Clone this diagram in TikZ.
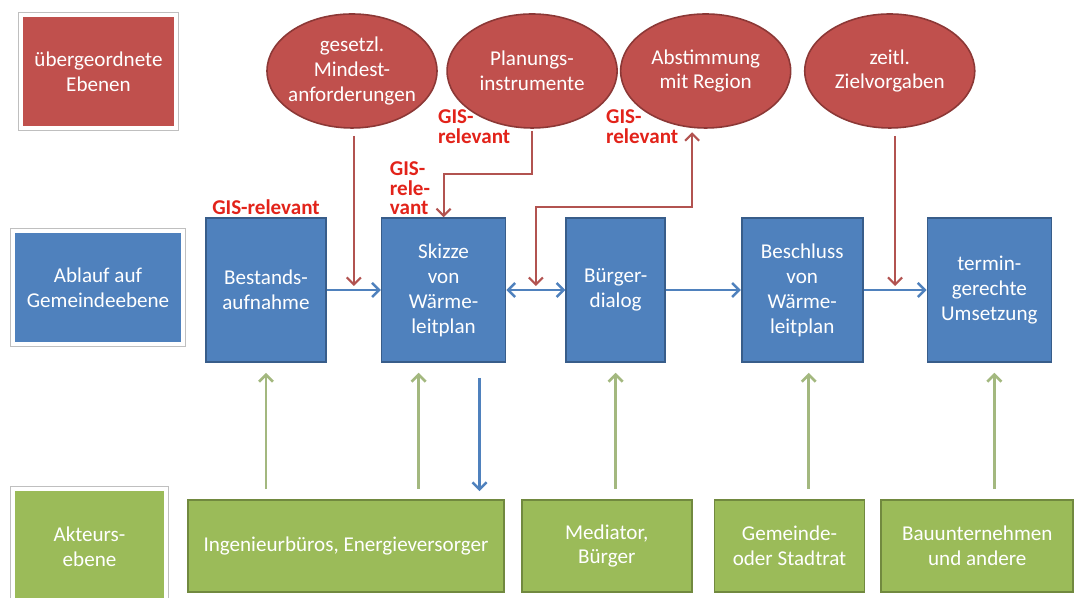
\documentclass[tikz,border=0pt]{standalone}
\usepackage{fontspec}
\setmainfont{Carlito}
\usepackage{tikz}
\usetikzlibrary{calc,positioning,arrows.meta,shapes.geometric,shadows}
\definecolor{blueFill}{HTML}{4F81BD}
\definecolor{blueLine}{HTML}{385D8A}
\definecolor{redFill}{HTML}{C0504D}
\definecolor{redLine}{HTML}{8C3836}
\definecolor{arrowRed}{HTML}{B25350}
\definecolor{greenFill}{HTML}{9BBB59}
\definecolor{greenLine}{HTML}{71893F}
\definecolor{arrowGreen}{HTML}{A3B87F}
\definecolor{gisRed}{HTML}{E2231A}
\newcommand{\boxfont}{\fontsize{12}{14.2}\selectfont}
\tikzstyle{blueArrow} = [line width=1.4pt, draw=blueFill, ->, >={Straight Barb[length=4pt,width=8pt]}]
\tikzstyle{redArrow} = [line width=1.2pt, draw=arrowRed, ->, >={Straight Barb[length=4pt,width=8pt]}]
\tikzstyle{greenArrow} = [line width=1.5pt, draw=arrowGreen, ->, >={Straight Barb[length=4pt,width=8pt]}, shorten <=0.2cm, shorten >=0.2cm]

\begin{document}
\begin{tikzpicture}
\tikzset{%
	legend/.style = { rectangle, draw=white, line width=2.4pt, text=white, align=center, font=\boxfont, minimum width=3.1cm, minimum height=2.26cm, preaction={draw=black!25, line width=3.6pt}, drop shadow={shadow xshift=0.8pt, shadow yshift=-1pt, opacity=0.3} },
	process/.style = { rectangle, draw=blueLine, line width=0.9pt, fill=blueFill, text=white, align=center, font=\boxfont, minimum height=2.88cm, inner sep=0pt },
	goal/.style = { ellipse, draw=redLine, line width=0.9pt, fill=redFill, text=white, align=center, font=\boxfont, minimum width=3.4cm, minimum height=2.28cm, inner sep=-6pt },
	actor/.style = { rectangle, draw=greenLine, line width=1pt, fill=greenFill, text=white, align=center, font=\boxfont, minimum height=1.84cm, inner sep=0pt },
	gis/.style = { text=gisRed, align=left, inner sep=1pt, font=\fontsize{12}{11.2}\selectfont\bfseries }
}
\useasboundingbox (0,0) rectangle (21.56,11.96);

\node(LegendOben)		[legend, fill=redFill] at (1.97,10.53)
								{übergeordnete\\Ebenen};
\node(LegendMitte)		[legend, fill=blueFill, minimum width=3.4cm] at (1.96,6.21)
								{Ablauf auf\\Gemeindeebene};
\node(LegendUnten)		[legend, fill=greenFill, minimum width=3.06cm, minimum height=2.32cm] at (1.79,1.02)
								{Akteurs-\\ebene};

\node(Bestand)			[process, minimum width=2.4cm] at (5.32,6.16)
								{Bestands-\\aufnahme};
\node(Skizze)			[process, minimum width=2.48cm, right=1.08cm of Bestand]
								{Skizze\\von\\Wärme-\\leitplan};
\node(Dialog)			[process, minimum width=1.98cm, right=1.18cm of Skizze]
								{Bürger-\\dialog};
\node(Beschluss)		[process, minimum width=2.42cm, right=1.5cm of Dialog]
								{Beschluss\\von\\Wärme-\\leitplan};
\node(Umsetzung)		[process, minimum width=2.48cm, right=1.26cm of Beschluss]
								{termin-\\gerechte\\Umsetzung};

\node(Gesetz)			[goal] at (7.04,10.54)
								{gesetzl.\\Mindest-\\anforderungen};
\node(Planung)			[goal, right=0.17cm of Gesetz]
								{Planungs-\\instrumente};
\node(Abstimmung)		[goal, right=0.04cm of Planung]
								{Abstimmung\\mit Region};
\node(Ziele)			[goal, right=0.25cm of Abstimmung]
								{zeitl.\\Zielvorgaben};

\node(Ingenieure)		[actor, minimum width=6.32cm] at (6.92,1.04)
								{Ingenieurbüros, Energieversorger};
\node(Mediator)			[actor, minimum width=3.4cm, right=0.32cm of Ingenieure]
								{Mediator,\\Bürger};
\node(Stadtrat)			[actor, minimum width=3.0cm, right=0.42cm of Mediator]
								{Gemeinde-\\oder Stadtrat};
\node(Bau)				[actor, minimum width=3.84cm, right=0.3cm of Stadtrat]
								{Bauunternehmen\\und andere};

\node(GisBestand)		[gis, above=0pt of Bestand]
								{GIS-relevant};
\node(GisSkizze)		[gis, anchor=south west] at ($(Skizze.north west)+(0.14,0)$)
								{GIS-\\rele-\\vant};
\node(GisPlanung)		[gis, anchor=south west] at (8.72,9.05)
								{GIS-\\relevant};
\node(GisRegion)		[gis, anchor=south west] at (12.08,9.05)
								{GIS-\\relevant};

\coordinate (MidBS) at ($(Bestand.east)!0.5!(Skizze.west)$);
\coordinate (MidSD) at ($(Skizze.east)!0.5!(Dialog.west)$);
\coordinate (MidBU) at ($(Beschluss.east)!0.5!(Umsetzung.west)$);
\coordinate (RegionIn) at ($(Abstimmung.south)+(-0.27,0)$);
\coordinate (SkizzeIn) at ($(Skizze.south)+(-0.5,0)$);
\coordinate (SkizzeOut) at ($(Skizze.south)+(0.72,0)$);
\coordinate (BeschlussIn) at ($(Beschluss.south)+(0.13,0)$);
\coordinate (UmsetzungIn) at ($(Umsetzung.south)+(0.1,0)$);

\draw [blueArrow]		(Bestand) -- (Skizze);
\draw [blueArrow, <->]	(Skizze) -- (Dialog);
\draw [blueArrow]		(Dialog) -- (Beschluss);
\draw [blueArrow]		(Beschluss) -- (Umsetzung);
\draw [blueArrow, shorten <=0.3cm, shorten >=0.16cm]
						(SkizzeOut) -- (SkizzeOut |- Ingenieure.north);

\draw [redArrow, shorten <=0.14cm, shorten >=0.08cm]	(Gesetz.south -| MidBS) -- (MidBS);
\draw [redArrow, shorten <=0.04cm]	(Planung.south) -- ++(0,-0.9) -| (Skizze.north);
\draw [redArrow, <->, shorten <=0.08cm, shorten >=0.07cm]
						(MidSD) -- ++(0,1.66) -| (RegionIn);
\draw [redArrow, shorten <=0.14cm, shorten >=0.08cm]	(Ziele.south -| MidBU) -- (MidBU);

\draw [greenArrow]	(Ingenieure.north -| Bestand.south) -- (Bestand.south);
\draw [greenArrow]	(Ingenieure.north -| SkizzeIn) -- (SkizzeIn);
\draw [greenArrow]	(Mediator.north -| Dialog.south) -- (Dialog.south);
\draw [greenArrow]	(Stadtrat.north -| BeschlussIn) -- (BeschlussIn);
\draw [greenArrow]	(Bau.north -| UmsetzungIn) -- (UmsetzungIn);

\end{tikzpicture}
\end{document}
